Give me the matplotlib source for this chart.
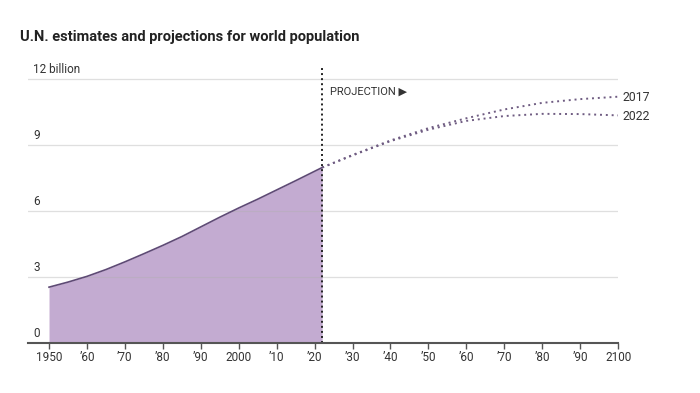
import matplotlib.pyplot as plt

plt.rcParams['font.family'] = ['Roboto', 'DejaVu Sans']

# estimates, billions
hist_years = [1950, 1955, 1960, 1965, 1970, 1975, 1980, 1985, 1990, 1995, 2000, 2005, 2010, 2015, 2022]
hist_pop = [2.54, 2.77, 3.03, 3.34, 3.69, 4.06, 4.44, 4.84, 5.28, 5.72, 6.14, 6.54, 6.96, 7.38, 7.98]

# projections
proj_years = [2022, 2030, 2040, 2050, 2060, 2070, 2080, 2090, 2100]
proj_2017 = [7.98, 8.55, 9.21, 9.77, 10.22, 10.62, 10.92, 11.09, 11.20]
proj_2022 = [7.98, 8.53, 9.18, 9.70, 10.10, 10.32, 10.42, 10.41, 10.35]

ytick_vals = [0, 3, 6, 9, 12]
ytick_labels = ['0', '3', '6', '9', '12 billion']
xtick_vals = list(range(1950, 2101, 10))
xtick_labels = ['1950', '\u201960', '\u201970', '\u201980', '\u201990', '2000', '\u201910', '\u201920',
                '\u201930', '\u201940', '\u201950', '\u201960', '\u201970', '\u201980', '\u201990', '2100']

fill_color = '#c3abd1'
line_color = '#5e4a75'
dot_color = '#6f5c82'
text_color = '#333333'

fig = plt.figure(figsize=(7, 3.93), dpi=100)
ax = fig.add_axes([0.04, 0.1272, 0.843, 0.7023])

ax.fill_between(hist_years, hist_pop, 0, color=fill_color, lw=0, zorder=1)
for v in ytick_vals[1:]:
    ax.axhline(v, color='#b0b0b0', alpha=0.4, lw=0.9, zorder=2)
ax.plot(hist_years, hist_pop, color=line_color, lw=1.2, zorder=3)
ax.plot(proj_years, proj_2017, color=dot_color, lw=1.4, ls=(0, (1, 2)), zorder=3)
ax.plot(proj_years, proj_2022, color=dot_color, lw=1.4, ls=(0, (1, 2)), zorder=3)

ax.set_xlim(1944.46, 2100)
ax.set_ylim(0, 12.55)

for v, lab in zip(ytick_vals, ytick_labels):
    ax.text(1945.8, v + 0.15, lab, fontsize=8.5, color=text_color, va='bottom', ha='left')

ax.axvline(2022, ymin=0, ymax=1, color='#222222', lw=1.4, ls=(0, (1, 1.6)), zorder=4)
ax.text(2024, 11.45, 'PROJECTION \u25b6', fontsize=8, color=text_color, va='center', ha='left')

ax.text(2101.2, proj_2017[-1] - 0.02, '2017', fontsize=8.8, color=text_color, va='center', ha='left')
ax.text(2101.2, proj_2022[-1] - 0.05, '2022', fontsize=8.8, color=text_color, va='center', ha='left')

for s in ['top', 'right', 'left']:
    ax.spines[s].set_visible(False)
ax.spines['bottom'].set_color('#555555')
ax.spines['bottom'].set_linewidth(1.5)
ax.spines['bottom'].set_zorder(5)
ax.set_yticks([])
ax.set_xticks(xtick_vals)
ax.set_xticklabels(xtick_labels)
ax.tick_params(axis='x', length=4, width=1, color='#555555', labelsize=8.5, labelcolor=text_color, pad=2)

fig.text(0.029, 0.905, 'U.N. estimates and projections for world population', fontsize=10.5,
         fontweight='bold', color='#222222', ha='left', va='center')

fig.savefig('out.png', dpi=100)
